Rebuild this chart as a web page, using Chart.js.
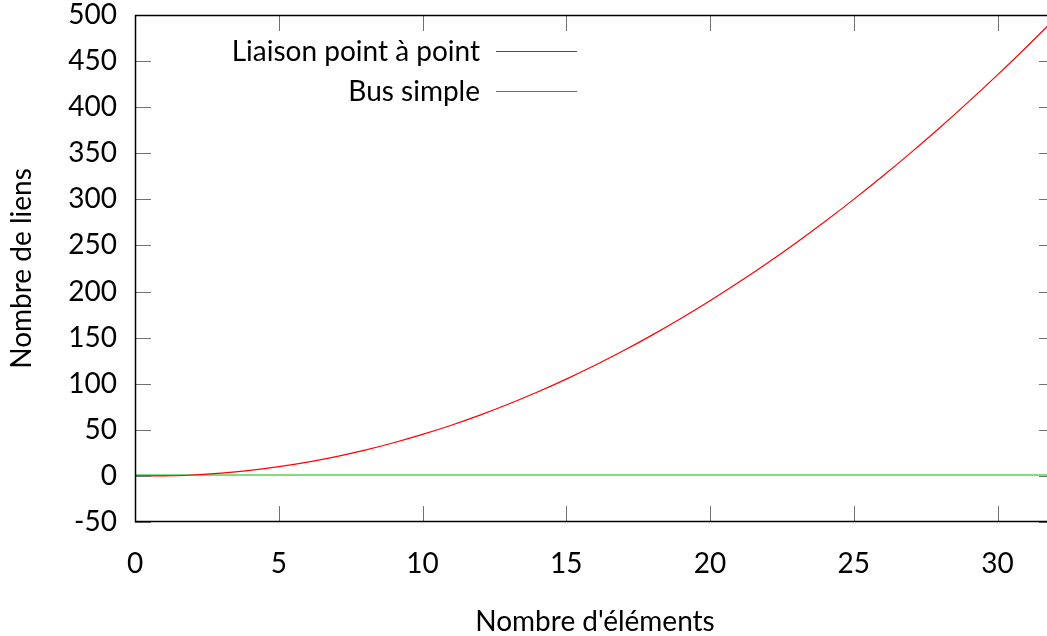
<!DOCTYPE html>
<html><head><meta charset="utf-8">
<script src="https://cdn.jsdelivr.net/npm/chart.js@4/dist/chart.umd.min.js"></script>
<style>html,body{margin:0;padding:0;overflow:hidden;background:#fff}#wrap{width:1056px;height:636px}</style>
</head><body><div id="wrap"><canvas id="c" width="1056" height="636"></canvas></div>
<script>
const elements = [0,1,2,3,4,5,6,7,8,9,10,11,12,13,14,15,16,17,18,19,20,21,22,23,24,25,26,27,28,29,30,31,32];
const pointToPoint = [0,0,1,3,6,10,15,21,28,36,45,55,66,78,91,105,120,136,153,171,190,210,231,253,276,300,325,351,378,406,435,465,496];
const busSimple = [1,1,1,1,1,1,1,1,1,1,1,1,1,1,1,1,1,1,1,1,1,1,1,1,1,1,1,1,1,1,1,1,1];
const seriesNames = ['Liaison point à point','Bus simple'];
const xTitle = "Nombre d'éléments";
const yTitle = 'Nombre de liens';

const FONT = 'Lato, "Open Sans", sans-serif';
const FS = 28;
const colors = ['#ff0000','#00c000'];

const framePlugin = {
  id:'frame',
  afterDatasetsDraw(chart){
    const ctx = chart.ctx, a = chart.chartArea, xs = chart.scales.x, ys = chart.scales.y;
    ctx.save();
    ctx.strokeStyle = '#707070'; ctx.lineWidth = 1;
    const L = 16;
    ctx.beginPath();
    xs.ticks.forEach(t=>{
      const px = Math.round(xs.getPixelForValue(t.value))+0.5;
      ctx.moveTo(px,a.bottom); ctx.lineTo(px,a.bottom-L);
      ctx.moveTo(px,a.top); ctx.lineTo(px,a.top+L);
    });
    ys.ticks.forEach(t=>{
      const py = Math.round(ys.getPixelForValue(t.value))+0.5;
      ctx.moveTo(a.left,py); ctx.lineTo(a.left+L,py);
      ctx.moveTo(a.right,py); ctx.lineTo(a.right-L,py);
    });
    ctx.stroke();
    ctx.strokeStyle = '#000'; ctx.lineWidth = 1.5;
    ctx.strokeRect(a.left+0.5,a.top+0.5,a.right-a.left-1,a.bottom-a.top-1);
    // legend
    ctx.font = FS+'px '+FONT;
    ctx.textAlign = 'right'; ctx.textBaseline = 'middle';
    ctx.fillStyle = '#000';
    const rows = [52, 92];
    seriesNames.forEach((n,i)=>{
      ctx.fillText(n, 480, rows[i]);
      ctx.strokeStyle = colors[i]; ctx.lineWidth = 1;
      ctx.beginPath(); ctx.moveTo(496, rows[i]-0.5); ctx.lineTo(577, rows[i]-0.5); ctx.stroke();
    });
    ctx.restore();
  }
};

new Chart(document.getElementById('c'), {
  type:'line',
  data:{
    labels: elements,
    datasets:[
      {label:seriesNames[0], data: elements.map((x,i)=>({x, y: pointToPoint[i]})), borderColor:colors[0], borderWidth:1.2, pointRadius:0, cubicInterpolationMode:'monotone'},
      {label:seriesNames[1], data: elements.map((x,i)=>({x, y: busSimple[i]})), borderColor:colors[1], borderWidth:1.1, pointRadius:0}
    ]
  },
  options:{
    responsive:false, animation:false,
    layout:{padding:{top:15,right:1,left:0,bottom:0}},
    plugins:{legend:{display:false}, tooltip:{enabled:false}},
    scales:{
      x:{type:'linear', min:0, max:32,
        ticks:{stepSize:5, includeBounds:false, padding:25, color:'#000', font:{family:FONT,size:FS}, maxRotation:0},
        grid:{display:false, drawTicks:false},
        border:{display:false},
        title:{display:true, text:xTitle, color:'#000', font:{family:FONT,size:FS,lineHeight:1}, padding:{top:0,bottom:0}},
        afterFit(s){ s.height = 114; s.paddingLeft = 0; s.paddingRight = 0; }
      },
      y:{type:'linear', min:-50, max:500,
        ticks:{stepSize:50, padding:18, color:'#000', font:{family:FONT,size:FS}},
        grid:{display:false, drawTicks:false},
        border:{display:false},
        title:{display:true, text:yTitle, color:'#000', font:{family:FONT,size:FS,lineHeight:1.2}, padding:{top:5,bottom:0}},
        afterFit(s){ s.width = 135; s.paddingTop = 0; s.paddingBottom = 0; }
      }
    }
  },
  plugins:[framePlugin]
});
</script></body></html>
